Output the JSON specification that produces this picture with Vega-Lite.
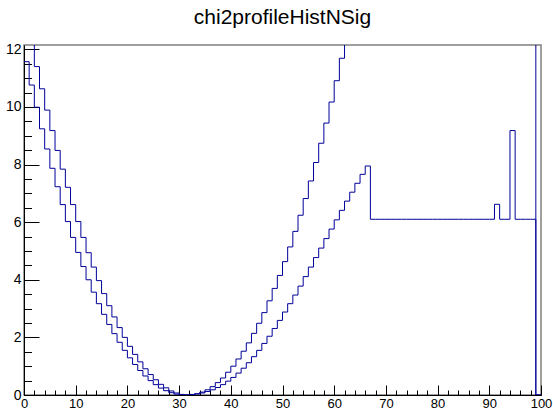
{
  "$schema": "https://vega.github.io/schema/vega-lite/v6.json",
  "width": 517,
  "height": 350,
  "autosize": {"type": "none"},
  "padding": {"left": 24, "top": 45, "right": 12, "bottom": 16},
  "title": {"text": "chi2profileHistNSig", "font": "Liberation Sans", "fontSize": 21, "fontWeight": "normal", "color": "#000000", "anchor": "middle", "offset": 14},
  "config": {"view": {"stroke": "#808080", "strokeWidth": 1.5}, "font": "Liberation Sans", "background": "#ffffff"},
  "data": {"values": [
    {"x":0,"a":13.0,"b":11.57},{"x":1,"a":12.3,"b":10.76},{"x":2,"a":11.40,"b":9.99},{"x":3,"a":10.63,"b":9.24},{"x":4,"a":9.89,"b":8.54},
    {"x":5,"a":9.18,"b":7.87},{"x":6,"a":8.49,"b":7.23},{"x":7,"a":7.84,"b":6.61},{"x":8,"a":7.21,"b":6.02},{"x":9,"a":6.61,"b":5.47},
    {"x":10,"a":6.02,"b":4.95},{"x":11,"a":5.47,"b":4.46},{"x":12,"a":4.94,"b":4.00},{"x":13,"a":4.44,"b":3.57},{"x":14,"a":3.97,"b":3.17},
    {"x":15,"a":3.52,"b":2.80},{"x":16,"a":3.10,"b":2.45},{"x":17,"a":2.71,"b":2.13},{"x":18,"a":2.34,"b":1.83},{"x":19,"a":2.00,"b":1.55},
    {"x":20,"a":1.69,"b":1.29},{"x":21,"a":1.41,"b":1.06},{"x":22,"a":1.15,"b":0.85},{"x":23,"a":0.91,"b":0.66},{"x":24,"a":0.71,"b":0.50},
    {"x":25,"a":0.53,"b":0.36},{"x":26,"a":0.37,"b":0.24},{"x":27,"a":0.25,"b":0.15},{"x":28,"a":0.14,"b":0.08},{"x":29,"a":0.07,"b":0.03},
    {"x":30,"a":0.02,"b":0.0},{"x":31,"a":0.0,"b":0.005},{"x":32,"a":0.01,"b":0.02},{"x":33,"a":0.04,"b":0.04},{"x":34,"a":0.10,"b":0.07},
    {"x":35,"a":0.18,"b":0.12},{"x":36,"a":0.29,"b":0.18},{"x":37,"a":0.43,"b":0.26},{"x":38,"a":0.59,"b":0.36},{"x":39,"a":0.79,"b":0.48},
    {"x":40,"a":1.00,"b":0.61},{"x":41,"a":1.25,"b":0.76},{"x":42,"a":1.52,"b":0.93},{"x":43,"a":1.81,"b":1.12},{"x":44,"a":2.14,"b":1.33},
    {"x":45,"a":2.49,"b":1.55},{"x":46,"a":2.86,"b":1.79},{"x":47,"a":3.27,"b":2.04},{"x":48,"a":3.70,"b":2.31},{"x":49,"a":4.15,"b":2.59},
    {"x":50,"a":4.63,"b":2.88},{"x":51,"a":5.14,"b":3.17},{"x":52,"a":5.68,"b":3.47},{"x":53,"a":6.24,"b":3.78},{"x":54,"a":6.82,"b":4.11},
    {"x":55,"a":7.43,"b":4.44},{"x":56,"a":8.07,"b":4.77},{"x":57,"a":8.74,"b":5.10},{"x":58,"a":9.44,"b":5.43},{"x":59,"a":10.17,"b":5.76},
    {"x":60,"a":10.91,"b":6.08},{"x":61,"a":11.69,"b":6.41},{"x":62,"a":12.49,"b":6.73},{"x":63,"a":13.3,"b":7.04},{"x":64,"a":14.2,"b":7.35},
    {"x":65,"a":15.1,"b":7.66},{"x":66,"a":16.0,"b":7.95},{"x":67,"a":16.9,"b":6.10},{"x":68,"a":17.8,"b":6.10},{"x":69,"a":18.8,"b":6.10},
    {"x":70,"a":19.8,"b":6.10},{"x":71,"a":20.8,"b":6.10},{"x":72,"a":21.8,"b":6.10},{"x":73,"a":22.9,"b":6.10},{"x":74,"a":24.0,"b":6.10},
    {"x":75,"a":25.1,"b":6.10},{"x":76,"a":26.2,"b":6.10},{"x":77,"a":27.3,"b":6.10},{"x":78,"a":28.5,"b":6.10},{"x":79,"a":29.7,"b":6.10},
    {"x":80,"a":30.9,"b":6.10},{"x":81,"a":32.1,"b":6.10},{"x":82,"a":33.4,"b":6.10},{"x":83,"a":34.7,"b":6.10},{"x":84,"a":36.0,"b":6.10},
    {"x":85,"a":37.3,"b":6.10},{"x":86,"a":38.6,"b":6.10},{"x":87,"a":40.0,"b":6.10},{"x":88,"a":41.4,"b":6.10},{"x":89,"a":42.8,"b":6.10},
    {"x":90,"a":44.2,"b":6.10},{"x":91,"a":45.7,"b":6.62},{"x":92,"a":47.1,"b":6.10},{"x":93,"a":48.6,"b":6.10},{"x":94,"a":50.2,"b":9.18},
    {"x":95,"a":51.7,"b":6.10},{"x":96,"a":53.3,"b":6.10},{"x":97,"a":54.9,"b":6.10},{"x":98,"a":56.5,"b":6.10},{"x":99,"a":0,"b":0},
    {"x":100,"a":0,"b":0}
  ]},
  "layer": [
    {
      "mark": {"type": "line", "interpolate": "step-after", "clip": true, "color": "#000099", "strokeWidth": 1},
      "encoding": {
        "x": {"field": "x", "type": "quantitative", "scale": {"domain": [0, 100], "nice": false, "zero": false},
          "axis": {"orient": "bottom", "values": [0,10,20,30,40,50,60,70,80,90,100], "tickSize": -10, "labelPadding": 12, "labelFontSize": 13, "labelFont": "Liberation Sans", "labelColor": "#000000", "domainColor": "#000000", "tickColor": "#000000", "grid": false, "title": null, "labelFlush": false, "labelOverlap": false}},
        "y": {"field": "a", "type": "quantitative", "scale": {"domain": [0, 12.15], "nice": false, "zero": false},
          "axis": {"orient": "left", "values": [0,2,4,6,8,10,12], "tickSize": -15, "labelPadding": 18, "labelFontSize": 14, "labelFont": "Liberation Sans", "labelColor": "#000000", "domainColor": "#000000", "tickColor": "#000000", "grid": false, "title": null, "labelFlush": false, "labelOverlap": false}}
      }
    },
    {
      "mark": {"type": "line", "interpolate": "step-after", "clip": true, "color": "#000099", "strokeWidth": 1},
      "encoding": {
        "x": {"field": "x", "type": "quantitative", "scale": {"domain": [0, 100], "nice": false, "zero": false},
          "axis": {"orient": "bottom", "values": [0,2,4,6,8,10,12,14,16,18,20,22,24,26,28,30,32,34,36,38,40,42,44,46,48,50,52,54,56,58,60,62,64,66,68,70,72,74,76,78,80,82,84,86,88,90,92,94,96,98,100], "tickSize": -5, "labels": false, "domain": false, "tickColor": "#000000", "grid": false, "title": null}},
        "y": {"field": "b", "type": "quantitative", "scale": {"domain": [0, 12.15], "nice": false, "zero": false},
          "axis": {"orient": "left", "values": [0,0.5,1,1.5,2,2.5,3,3.5,4,4.5,5,5.5,6,6.5,7,7.5,8,8.5,9,9.5,10,10.5,11,11.5,12], "tickSize": -7.5, "labels": false, "domain": false, "tickColor": "#000000", "grid": false, "title": null}}
      }
    }
  ],
  "resolve": {"axis": {"x": "independent", "y": "independent"}}
}
